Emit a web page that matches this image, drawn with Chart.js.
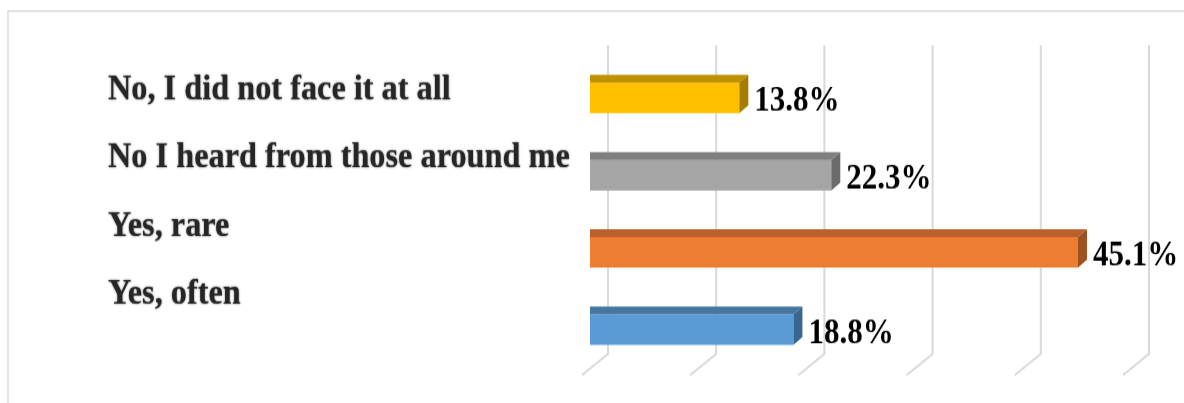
<!DOCTYPE html>
<html>
<head>
<meta charset="utf-8">
<script src="https://cdn.jsdelivr.net/npm/chart.js@4.4.0/dist/chart.umd.min.js"></script>
<style>
  html, body { margin: 0; padding: 0; background: #fff; }
  #outer { width: 1184px; height: 403px; overflow: hidden; }
  /* the whole figure is drawn slightly squat and stretched tall */
  #wrap { width: 1184px; height: 357px; transform: scaleY(1.1289); transform-origin: 0 0; }
</style>
</head>
<body>
<div id="outer"><div id="wrap"><canvas id="chart"></canvas></div></div>
<script>
const categories = ['No, I did not face it at all', 'No I heard from those around me', 'Yes, rare', 'Yes, often'];
const percentages = [13.8, 22.3, 45.1, 18.8];
const gridTicks = [0, 10, 20, 30, 40, 50];

// front / top / right-side shades of each 3D bar
const frontColors = ['#FFC000', '#A5A5A5', '#ED7D31', '#5B9BD5'];
const topColors   = ['#BF9000', '#7F7F7F', '#B9612A', '#46769F'];
const sideColors  = ['#A67C00', '#6B6B6B', '#9E5220', '#3A6590'];

const DEPTH_X = 9, DEPTH_Y = 7;

const bar3d = {
  id: 'bar3d',
  beforeDatasetsDraw(chart) {
    const ctx = chart.ctx;
    const area = chart.chartArea;
    const xs = chart.scales.x;
    ctx.save();
    // outer frame (top and left edges)
    ctx.strokeStyle = '#d9d9d9';
    ctx.lineWidth = 1.5;
    ctx.beginPath();
    ctx.moveTo(8, chart.height);
    ctx.lineTo(8, 9.7);
    ctx.lineTo(chart.width, 9.7);
    ctx.stroke();
    // back-wall gridlines folding onto the floor
    ctx.lineWidth = 2;
    gridTicks.forEach(v => {
      const gx = xs.getPixelForValue(v) + 2 * DEPTH_X;
      ctx.beginPath();
      ctx.moveTo(gx, area.top - 12.6);
      ctx.lineTo(gx, area.bottom - 12.6);
      ctx.lineTo(gx - 26, area.bottom + 6);
      ctx.stroke();
    });
    ctx.restore();
  },
  afterDatasetsDraw(chart) {
    const ctx = chart.ctx;
    const area = chart.chartArea;
    const meta = chart.getDatasetMeta(0);
    ctx.save();
    meta.data.forEach((bar, i) => {
      const { x, y, base, height } = bar.getProps(['x', 'y', 'base', 'height'], true);
      const top = y - height / 2, bot = y + height / 2;

      ctx.fillStyle = topColors[i];
      ctx.beginPath();
      ctx.moveTo(base, top);
      ctx.lineTo(base, top - DEPTH_Y);
      ctx.lineTo(x + DEPTH_X, top - DEPTH_Y);
      ctx.lineTo(x, top);
      ctx.closePath();
      ctx.fill();

      ctx.fillStyle = sideColors[i];
      ctx.beginPath();
      ctx.moveTo(x, top);
      ctx.lineTo(x + DEPTH_X, top - DEPTH_Y);
      ctx.lineTo(x + DEPTH_X, bot - DEPTH_Y);
      ctx.lineTo(x, bot);
      ctx.closePath();
      ctx.fill();

      // value label
      ctx.fillStyle = '#000';
      ctx.font = 'bold 31px "Liberation Serif"';
      ctx.textAlign = 'left';
      ctx.textBaseline = 'middle';
      ctx.fillText(percentages[i] + '%', x + 15, y + 3.5);

      // category label, set slightly higher and tighter than the bars, a little soft
      ctx.save();
      ctx.fillStyle = '#262626';
      ctx.shadowColor = 'rgba(30,30,30,0.7)';
      ctx.shadowBlur = 2;
      ctx.font = 'bold 32.3px "Liberation Serif"';
      const ly = area.top + 0.882 * (y - area.top) - 3;
      ctx.fillText(categories[i], 108, ly);
      ctx.restore();
    });
    ctx.restore();
  }
};

new Chart(document.getElementById('chart'), {
  type: 'bar',
  data: {
    labels: categories,
    datasets: [{
      data: percentages,
      backgroundColor: frontColors,
      borderWidth: 0,
      barPercentage: 0.395,
      categoryPercentage: 1
    }]
  },
  options: {
    indexAxis: 'y',
    responsive: true,
    maintainAspectRatio: false,
    animation: false,
    layout: { padding: { left: 590, right: 53, top: 52.6, bottom: 30.8 } },
    plugins: { legend: { display: false }, tooltip: { enabled: false } },
    scales: {
      x: { display: false, min: 0, max: 50 },
      y: { display: false }
    }
  },
  plugins: [bar3d]
});
</script>
</body>
</html>
